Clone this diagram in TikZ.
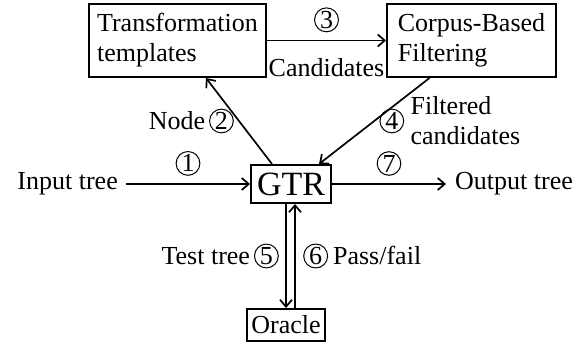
\documentclass[tikz,border=0pt]{standalone}
\usepackage{fontspec}
\setmainfont{Liberation Serif}
\usetikzlibrary{arrows.meta}
\newcommand\cnum[1]{\tikz[baseline=(cn.base)]\node[draw,circle,inner sep=0.8pt,line width=1pt,minimum size=0pt,font=\fontsize{26}{30}\selectfont](cn){#1};}
\tikzset{
  box/.style={draw,line width=2pt,inner sep=3pt},
  arr/.style={line width=1.7pt,-{Straight Barb[length=7pt,width=12pt,line width=1.7pt]}},
  lbl/.style={inner sep=0pt}
}
\begin{document}
\begin{tikzpicture}[x=1pt,y=1pt,font=\fontsize{26}{30}\selectfont]
\useasboundingbox (0,0) rectangle (581,-350);
\node[box,minimum width=177pt,minimum height=73pt,align=left] (tt) at (177.5,-40.5) {Transformation\\templates};
\node[box,minimum width=169pt,minimum height=73pt,align=left] (cb) at (471.5,-40.5) {Corpus-Based\\Filtering};
\node[box,minimum width=80pt,minimum height=38pt,font=\fontsize{34}{40}\selectfont] (gtr) at (291,-184) {GTR};
\node[box,minimum width=78pt,minimum height=32pt] (or) at (286,-325) {Oracle};
\node[lbl,anchor=east] (in) at (118,-184) {Input tree};
\node[lbl,anchor=west] (out) at (455,-184) {Output tree};

\draw[arr] ([xshift=8pt]in.east) -- (gtr.west) node[lbl,midway,above=8pt] {\cnum{1}};
\draw[arr] (gtr.east) -- ([xshift=-9pt]out.west) node[lbl,pos=0.5,above=8pt] {\cnum{7}};
\draw[arr] (tt.east) -- (cb.west)
  node[lbl,midway,above=8pt] {\cnum{3}}
  node[lbl,midway,below=17pt] {Candidates};
\draw[arr] ([xshift=22pt]gtr.north west) -- ([xshift=118pt]tt.south west)
  node[lbl,midway,left=5pt] {Node\hspace{4pt}\cnum{2}};
\draw[arr] ([xshift=-42pt]cb.south) -- ([xshift=-13pt]gtr.north east)
  node[lbl,midway,right=5pt] (l4) {\cnum{4}};
\node[lbl,anchor=west,align=left] (fc) at ([xshift=6pt]l4.east) {Filtered\\candidates};
\draw[arr] ([xshift=-5pt]gtr.south) -- ([xshift=-5pt]gtr.south |- or.north)
  node[lbl,midway,left=7pt] {Test tree\hspace{4pt}\cnum{5}};
\draw[arr] ([xshift=4pt]gtr.south |- or.north) -- ([xshift=4pt]gtr.south)
  node[lbl,midway,right=8pt] {\cnum{6}\hspace{5pt}Pass/fail};
\end{tikzpicture}
\end{document}
